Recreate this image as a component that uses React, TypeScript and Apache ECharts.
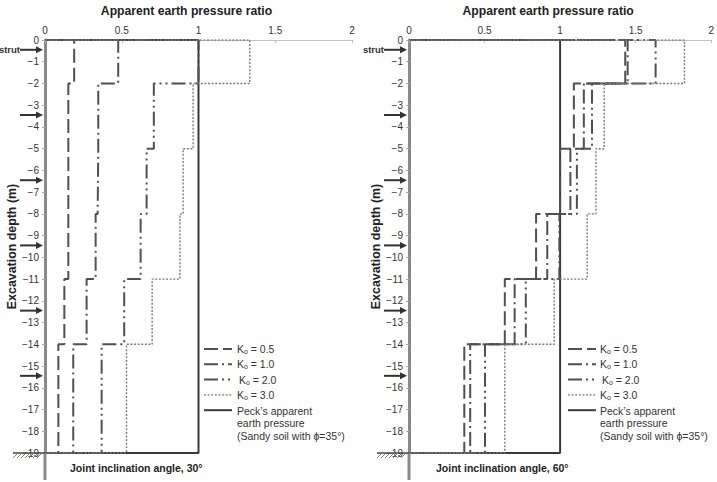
import React, { useEffect, useRef } from "react";
import * as echarts from "echarts";

// Depths (m) at which the apparent pressure diagram changes value
const depthBreaks = [0, -2, -5, -8, -11, -14, -19];

// Apparent earth pressure ratio per depth segment, joint inclination 30°
const k05_30 = [0.19, 0.152, 0.152, 0.152, 0.126, 0.087];
const k10_30 = [0.477, 0.347, 0.343, 0.33, 0.271, 0.184];
const k20_30 = [1.0, 0.709, 0.662, 0.623, 0.516, 0.369];
const k30_30 = [1.334, 0.965, 0.9, 0.879, 0.698, 0.531];

// Apparent earth pressure ratio per depth segment, joint inclination 60°
const k05_60 = [1.431, 1.091, 1.0, 0.841, 0.634, 0.366];
const k10_60 = [1.447, 1.157, 1.068, 0.915, 0.699, 0.405];
const k20_60 = [1.632, 1.211, 1.111, 0.995, 0.773, 0.503];
const k30_60 = [1.823, 1.292, 1.237, 1.179, 0.961, 0.634];

// Peck's envelope for sandy soil (normalised)
const peckRatio = 1.0;

// Strut levels (m)
const strutDepths = [-0.45, -3.45, -6.45, -9.45, -12.45, -15.45];

const seriesNames = ["K0 = 0.5", "K0 = 1.0", "K0 = 2.0", "K0 = 3.0", "Peck"];
const legendValues = ["0.5", "1.0", "2.0", "3.0"];
const panelAngles = ["30°", "60°"];

const FONT = '"Liberation Sans", Arial, Helvetica, sans-serif';

const lineStyles = [
  { color: "#505050", width: 2, type: [14, 5] },
  { color: "#505050", width: 2, type: [14, 4, 2, 4] },
  { color: "#505050", width: 2, type: [14, 4, 2, 4, 2, 4] },
  { color: "#7a7a7a", width: 1.4, type: [2, 1.6] },
  { color: "#3a3a3a", width: 2, type: "solid" },
];

function stepPoints(values: number[]): number[][] {
  const pts: number[][] = [[0, depthBreaks[0]]];
  values.forEach((v, i) => {
    pts.push([v, depthBreaks[i]]);
    pts.push([v, depthBreaks[i + 1]]);
  });
  pts.push([0, depthBreaks[depthBreaks.length - 1]]);
  return pts;
}

function peckPoints(): number[][] {
  const bottom = depthBreaks[depthBreaks.length - 1];
  return [
    [0, 0],
    [peckRatio, 0],
    [peckRatio, bottom],
    [0, bottom],
  ];
}

const minusFmt = (v: number) => (v < 0 ? "\u2212" + Math.abs(v) : String(v));

function panelSeries(idx: number, sets: number[][]) {
  const list: any[] = sets.map((vals, i) => ({
    name: seriesNames[i],
    type: "line",
    xAxisIndex: idx,
    yAxisIndex: idx,
    data: stepPoints(vals),
    symbol: "none",
    silent: true,
    lineStyle: lineStyles[i],
    z: 3,
  }));
  list.push({
    name: seriesNames[4],
    type: "line",
    xAxisIndex: idx,
    yAxisIndex: idx,
    data: peckPoints(),
    symbol: "none",
    silent: true,
    lineStyle: lineStyles[4],
    z: 2,
  });
  // strut arrows to the left of the wall
  list.push({
    type: "custom",
    xAxisIndex: idx,
    yAxisIndex: idx,
    silent: true,
    data: strutDepths.map((d) => [0, d]),
    renderItem: (params: any, api: any) => {
      const p = api.coord([api.value(0), api.value(1)]);
      const tip = p[0] - 2;
      const tail = p[0] - 25;
      const children: any[] = [
        {
          type: "line",
          shape: { x1: tail, y1: p[1], x2: tip - 5, y2: p[1] },
          style: { stroke: "#333", lineWidth: 2 },
        },
        {
          type: "polygon",
          shape: { points: [[tip, p[1]], [tip - 7, p[1] - 3.5], [tip - 7, p[1] + 3.5]] },
          style: { fill: "#333" },
        },
      ];
      if (params.dataIndex === 0) {
        children.push({
          type: "text",
          style: {
            text: "strut",
            x: tail,
            y: p[1],
            align: "right",
            verticalAlign: "middle",
            font: `bold 9.5px ${FONT}`,
            fill: "#333",
          },
        });
      }
      return { type: "group", children };
    },
    z: 5,
  });
  // excavation base: ground line with hatching and the wall below it
  list.push({
    type: "custom",
    xAxisIndex: idx,
    yAxisIndex: idx,
    silent: true,
    data: [[0, depthBreaks[depthBreaks.length - 1]]],
    renderItem: (_params: any, api: any) => {
      const p = api.coord([api.value(0), api.value(1)]);
      const children: any[] = [
        {
          type: "line",
          shape: { x1: p[0], y1: p[1], x2: p[0], y2: p[1] + 27 },
          style: { stroke: "#8a8a8a", lineWidth: 3 },
        },
        {
          type: "line",
          shape: { x1: p[0] - 32, y1: p[1], x2: p[0], y2: p[1] },
          style: { stroke: "#444", lineWidth: 1.5 },
        },
      ];
      for (let x = p[0] - 28; x <= p[0] - 4; x += 4) {
        children.push({
          type: "line",
          shape: { x1: x, y1: p[1] + 1, x2: x - 4, y2: p[1] + 5 },
          style: { stroke: "#666", lineWidth: 0.8 },
        });
      }
      return { type: "group", children };
    },
    z: 5,
  });
  return list;
}

function legendGraphics(sampleX: number, textX: number) {
  const rowY = [349, 364.3, 379.6, 394.9, 410.2];
  const els: any[] = [];
  rowY.forEach((y, i) => {
    const ls = lineStyles[i];
    els.push({
      type: "line",
      silent: true,
      shape: { x1: sampleX, y1: y, x2: sampleX + 28, y2: y },
      style: {
        stroke: ls.color,
        lineWidth: ls.width,
        lineDash: Array.isArray(ls.type) ? ls.type : null,
      },
    });
    if (i < 4) {
      els.push({
        type: "text",
        silent: true,
        x: textX + (i === 2 ? 2 : 0),
        y: y,
        style: {
          text: `{k|K}{s|o}{k| = ${legendValues[i]}}`,
          verticalAlign: "middle",
          rich: {
            k: { fontSize: 10.5, fontFamily: FONT, fill: "#333" },
            s: { fontSize: 7, fontFamily: FONT, fill: "#333", padding: [5, 0, 0, 0] },
          },
        },
      });
    }
  });
  const peckLines = ["Peck\u2019s apparent", "earth pressure", "(Sandy soil with \u03d5=35\u00b0)"];
  peckLines.forEach((t, j) => {
    els.push({
      type: "text",
      silent: true,
      x: textX,
      y: 411 + j * 12.4,
      style: {
        text: t,
        verticalAlign: "middle",
        font: `10.5px ${FONT}`,
        fill: "#333",
      },
    });
  });
  return els;
}

function axisPair(idx: number) {
  return {
    x: {
      type: "value",
      gridIndex: idx,
      position: "top",
      min: 0,
      max: 2,
      interval: 0.5,
      name: "Apparent earth pressure ratio",
      nameLocation: "middle",
      nameGap: 23,
      nameTextStyle: {
        fontFamily: FONT,
        fontWeight: "bold",
        fontSize: 12.2,
        color: "#222",
        padding: [0, 24, 0, 0],
      },
      axisLine: { show: true, onZero: false, lineStyle: { color: "#c4c4c4", width: 1 } },
      axisTick: { show: true, inside: true, length: 3, lineStyle: { color: "#bbb" } },
      axisLabel: { fontFamily: FONT, fontSize: 10, color: "#333", margin: 5 },
      splitLine: { show: false },
    },
    y: {
      type: "value",
      gridIndex: idx,
      min: -19,
      max: 0,
      interval: 1,
      name: "Excavation depth (m)",
      nameLocation: "middle",
      nameGap: 26,
      nameTextStyle: { fontFamily: FONT, fontWeight: "bold", fontSize: 12.4, color: "#222" },
      axisLine: { show: true, onZero: false, lineStyle: { color: "#8a8a8a", width: 3 } },
      axisTick: { show: true, length: 3, lineStyle: { color: "#aaa" } },
      axisLabel: { fontFamily: FONT, fontSize: 10, color: "#333", margin: 6, formatter: minusFmt },
      splitLine: { show: false },
    },
  };
}

export default function App() {
  const ref = useRef<HTMLDivElement>(null);

  useEffect(() => {
    if (!ref.current) return;
    document.body.style.margin = "0";
    const chart = echarts.init(ref.current, null, { renderer: "svg" });
    const a0 = axisPair(0);
    const a1 = axisPair(1);
    chart.setOption({
      animation: false,
      backgroundColor: "#ffffff",
      textStyle: { fontFamily: FONT },
      grid: [
        { left: 45, top: 39, width: 307, height: 414 },
        { left: 409, top: 39, width: 306, height: 414 },
      ],
      xAxis: [a0.x, a1.x],
      yAxis: [a0.y, a1.y],
      series: [
        ...panelSeries(0, [k05_30, k10_30, k20_30, k30_30]),
        ...panelSeries(1, [k05_60, k10_60, k20_60, k30_60]),
      ],
      graphic: [
        ...legendGraphics(204, 237),
        ...legendGraphics(568, 600),
        {
          type: "text",
          silent: true,
          x: 70,
          y: 468,
          style: {
            text: `Joint inclination angle, ${panelAngles[0]}`,
            verticalAlign: "middle",
            font: `bold 10.5px ${FONT}`,
            fill: "#222",
          },
        },
        {
          type: "text",
          silent: true,
          x: 436,
          y: 468,
          style: {
            text: `Joint inclination angle, ${panelAngles[1]}`,
            verticalAlign: "middle",
            font: `bold 10.5px ${FONT}`,
            fill: "#222",
          },
        },
      ],
    });
    return () => chart.dispose();
  }, []);

  return (
    <div
      ref={ref}
      style={{ position: "absolute", left: 0, top: 0, width: 717, height: 482, background: "#fff" }}
    />
  );
}
